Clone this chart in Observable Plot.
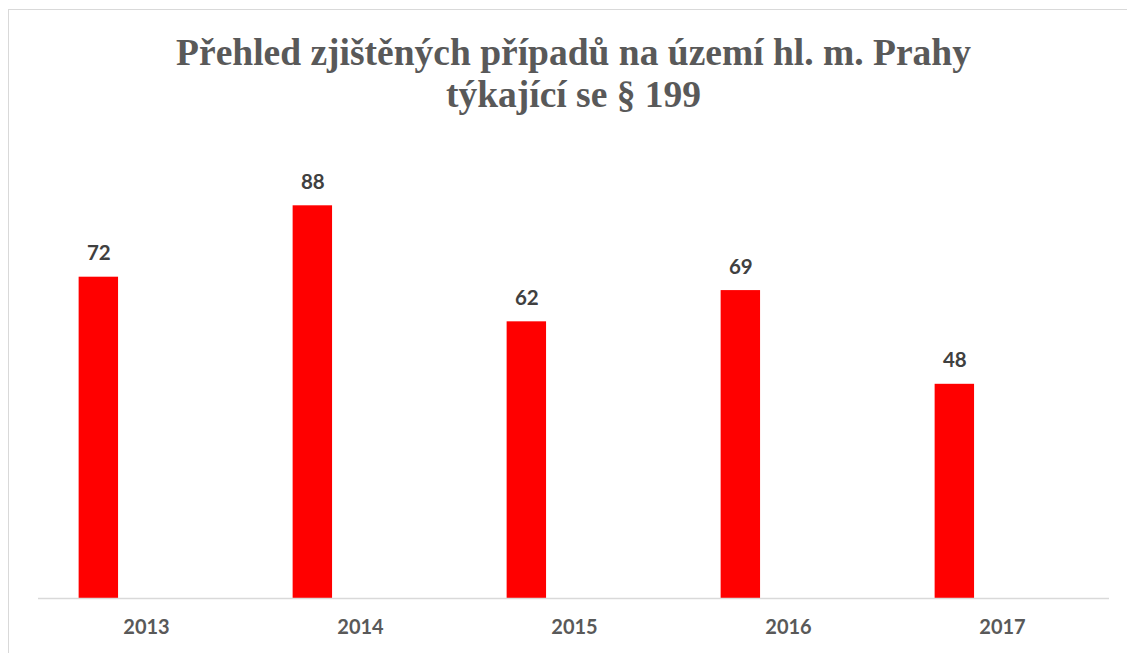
<!DOCTYPE html>
<html>
<head>
<meta charset="utf-8">
<script src="https://cdn.jsdelivr.net/npm/d3@7"></script>
<script src="https://cdn.jsdelivr.net/npm/@observablehq/plot@0.6"></script>
<style>
  html, body { margin: 0; padding: 0; background: #fff; }
  #wrap { position: relative; width: 1127px; height: 653px; overflow: hidden; }
  #frame { position: absolute; left: 8px; top: 9px; width: 1140px; height: 660px;
           border: 1.5px solid #d9d9d9; box-sizing: border-box; }
  #title { position: absolute; left: 10px; width: 1127px; top: 32px; text-align: center;
           font-family: "Liberation Serif", "Times New Roman", serif; font-weight: bold;
           font-size: 37.5px; line-height: 42px; color: #595959; }
  #chart { position: absolute; left: 0; top: 0; }
</style>
</head>
<body>
<div id="wrap">
  <div id="frame"></div>
  <div id="chart"></div>
  <div id="title">Přehled zjištěných případů na území hl. m. Prahy<br>týkající se § 199</div>
</div>
<script>
const years = ["2013", "2014", "2015", "2016", "2017"];
const cases = [72, 88, 62, 69, 48];

const data = years.map((y, i) => ({year: y, value: cases[i]}));

const W = 1127, H = 653;
const mL = 38, mR = 18, mT = 151.75, mB = 55;
const band = (W - mL - mR) / years.length;
const insL = band * 0.185, insR = band * 0.63;
const dxLabel = (insL + (band - insR)) / 2 - band / 2;

const chart = Plot.plot({
  width: W,
  height: H,
  marginLeft: mL,
  marginRight: mR,
  marginTop: mT,
  marginBottom: mB,
  style: {background: "transparent", overflow: "visible"},
  x: {domain: years, padding: 0, label: null},
  y: {domain: [0, 100], axis: null},
  marks: [
    Plot.barY(data, {x: "year", y: "value", fill: "#ff0000", insetLeft: insL, insetRight: insR}),
    Plot.ruleY([0], {stroke: "#d9d9d9", strokeWidth: 1.5}),
    Plot.text(data, {x: "year", y: "value", text: d => String(d.value), dx: dxLabel, dy: -17,
      lineAnchor: "bottom", fill: "#404040", fontSize: 20.5, fontWeight: "bold",
      fontFamily: "Lato, 'Open Sans', sans-serif"}),
    Plot.axisX({tickSize: 0, tickPadding: 21, fontSize: 20, fontWeight: "bold",
      fontFamily: "Lato, 'Open Sans', sans-serif", color: "#595959", label: null})
  ]
});
document.getElementById("chart").appendChild(chart);
</script>
</body>
</html>
